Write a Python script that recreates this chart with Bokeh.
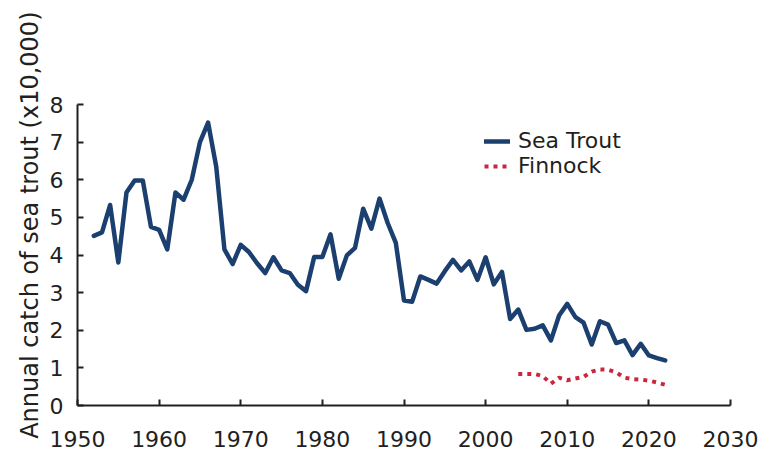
from bokeh.plotting import figure
from bokeh.models import Range1d, FixedTicker, Legend, LegendItem, Title
from bokeh.embed import file_html
from bokeh.resources import INLINE

# ---- data ----
trout_years = list(range(1952, 2023))
trout_catch = [4.51, 4.60, 5.33, 3.80, 5.66, 5.98, 5.98, 4.75, 4.67, 4.15,
               5.66, 5.47, 6.00, 7.00, 7.52, 6.34, 4.15, 3.76, 4.27, 4.08,
               3.78, 3.52, 3.94, 3.59, 3.52, 3.21, 3.04, 3.95, 3.95, 4.55,
               3.37, 3.99, 4.19, 5.23, 4.70, 5.50, 4.85, 4.32, 2.79, 2.76,
               3.43, 3.34, 3.24, 3.57, 3.87, 3.59, 3.83, 3.34, 3.94, 3.22,
               3.55, 2.30, 2.55, 2.01, 2.04, 2.13, 1.73, 2.39, 2.70, 2.35,
               2.20, 1.62, 2.24, 2.15, 1.66, 1.73, 1.34, 1.64, 1.33, 1.26,
               1.20]
finnock_years = list(range(2004, 2023))
finnock_catch = [0.84, 0.84, 0.84, 0.78, 0.58, 0.74, 0.67, 0.72, 0.76, 0.90,
                 0.96, 0.95, 0.88, 0.74, 0.70, 0.69, 0.66, 0.61, 0.55]
x_ticks = [1950, 1960, 1970, 1980, 1990, 2000, 2010, 2020, 2030]
y_ticks = [0, 1, 2, 3, 4, 5, 6, 7, 8]
series_names = ["Sea Trout", "Finnock"]
y_title = "Annual catch of sea trout (x10,000)"

FONT = "DejaVu Sans"
TXT = "#231f20"

p = figure(frame_width=653, frame_height=301,
           x_range=Range1d(1950, 2030), y_range=Range1d(0, 8),
           output_backend="svg", toolbar_location=None,
           min_border_left=77, min_border_top=104,
           min_border_right=33, min_border_bottom=51)
p.outline_line_color = None
p.grid.visible = False
p.background_fill_color = "white"
p.border_fill_color = "white"

for ax in (p.xaxis[0], p.yaxis[0]):
    ax.axis_line_color = TXT
    ax.axis_line_width = 2
    ax.major_tick_line_color = TXT
    ax.major_tick_line_width = 2
    ax.major_tick_in = 6
    ax.major_tick_out = 0
    ax.minor_tick_line_color = None
    ax.major_label_text_font = FONT
    ax.major_label_text_font_size = "22px"
    ax.major_label_text_color = TXT

p.xaxis.ticker = FixedTicker(ticks=x_ticks)
p.yaxis.ticker = FixedTicker(ticks=y_ticks)
p.xaxis.major_label_standoff = 25
p.yaxis.major_label_standoff = 14

r1 = p.line(trout_years, trout_catch, line_color="#1b3f6e", line_width=4.5,
            line_join="round", line_cap="round")
r2 = p.line(finnock_years, finnock_catch, line_color="#c8283c", line_width=4,
            line_dash="4 5")

legend = Legend(items=[LegendItem(label=series_names[0], renderers=[r1]),
                       LegendItem(label=series_names[1], renderers=[r2])],
                location=(407, 227), orientation="vertical",
                padding=0, margin=0, spacing=-5,
                border_line_alpha=0, background_fill_alpha=0,
                glyph_width=26, glyph_height=20, label_height=20,
                label_standoff=8,
                label_text_font=FONT, label_text_font_size="22px",
                label_text_color=TXT)
p.add_layout(legend, "center")

t = Title(text=y_title, align="right", offset=-93, vertical_align="top",
          standoff=2, text_font=FONT, text_font_size="24px",
          text_font_style="normal", text_color=TXT)
p.add_layout(t, "left")

open("out.html", "w").write(file_html(p, INLINE))
